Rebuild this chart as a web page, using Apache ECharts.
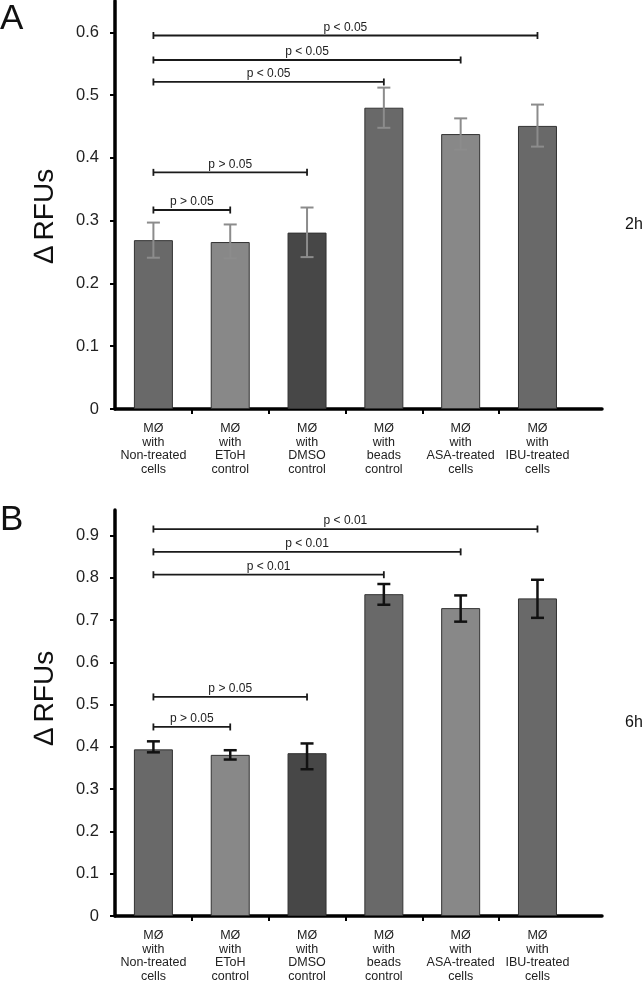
<!DOCTYPE html>
<html>
<head>
<meta charset="UTF-8">
<title>RFU 2h / 6h</title>
<script src="https://cdn.jsdelivr.net/npm/echarts@6/dist/echarts.min.js"></script>
<style>
    body { margin: 0; padding: 0; background: #fff; }
    #main { width: 643px; height: 983px; }
</style>
</head>
<body>
<div id="main"></div>
<script type="text/javascript">
    // categories (x axis)
    var categories = ['MØ\nwith\nNon-treated\ncells', 'MØ\nwith\nEToH\ncontrol', 'MØ\nwith\nDMSO\ncontrol',
        'MØ\nwith\nbeads\ncontrol', 'MØ\nwith\nASA-treated\ncells', 'MØ\nwith\nIBU-treated\ncells'];

    // panel A, 2h
    var mean2h = [0.269, 0.266, 0.281, 0.480, 0.438, 0.451];
    var errLow2h = [0.241, 0.240, 0.242, 0.448, 0.413, 0.418];
    var errHigh2h = [0.297, 0.294, 0.321, 0.512, 0.463, 0.485];
    var sigTo2h = [1, 2, 3, 4, 5];
    var sigY2h = [0.317, 0.377, 0.521, 0.556, 0.595];
    var sigText2h = ['p > 0.05', 'p > 0.05', 'p < 0.05', 'p < 0.05', 'p < 0.05'];
    var yTicks2h = [0, 0.1, 0.2, 0.3, 0.4, 0.5, 0.6];

    // panel B, 6h
    var mean6h = [0.394, 0.381, 0.385, 0.761, 0.728, 0.751];
    var errLow6h = [0.387, 0.370, 0.347, 0.736, 0.696, 0.705];
    var errHigh6h = [0.413, 0.392, 0.408, 0.785, 0.758, 0.795];
    var sigTo6h = [1, 2, 3, 4, 5];
    var sigY6h = [0.447, 0.518, 0.807, 0.861, 0.915];
    var sigText6h = ['p > 0.05', 'p > 0.05', 'p < 0.01', 'p < 0.01', 'p < 0.01'];
    var yTicks6h = [0, 0.1, 0.2, 0.3, 0.4, 0.5, 0.6, 0.7, 0.8, 0.9];

    var barColors = ['#696969', '#888888', '#474747', '#696969', '#888888', '#696969'];
    var FONT = '"Liberation Sans", Arial, sans-serif';

    var myChart = echarts.init(document.getElementById('main'));

    function xAxisOf(grid) {
        return {
            type: 'value', gridIndex: grid, min: 0, max: 6.34,
            splitLine: { show: false },
            axisLine: { show: true, onZero: false, lineStyle: { color: '#000', width: 3.5 } },
            axisTick: { show: true, customValues: [1, 2, 3, 4, 5], length: 5, lineStyle: { color: '#000', width: 2 } },
            axisLabel: {
                customValues: [0.5, 1.5, 2.5, 3.5, 4.5, 5.5],
                formatter: function (v) { return categories[Math.round(v - 0.5)]; },
                fontFamily: FONT, fontSize: 12.5, lineHeight: 13.5, color: '#222', margin: 13
            }
        };
    }
    function yAxisOf(grid, max, ticks) {
        return {
            type: 'value', gridIndex: grid, min: 0, max: max,
            splitLine: { show: false },
            axisLine: { show: true, lineStyle: { color: '#000', width: 3.5 } },
            axisTick: { show: true, customValues: ticks, length: 5, lineStyle: { color: '#000', width: 2 } },
            axisLabel: {
                customValues: ticks,
                formatter: function (v) { return v === 0 ? '0' : v.toFixed(1); },
                fontFamily: FONT, fontSize: 16.5, color: '#222', margin: 16
            }
        };
    }

    function barSeries(grid, means) {
        return {
            type: 'bar', xAxisIndex: grid, yAxisIndex: grid, barWidth: 39,
            data: means.map(function (v, i) {
                return { value: [i + 0.5, v], itemStyle: { color: barColors[i], borderColor: '#333', borderWidth: 1 } };
            })
        };
    }

    function errSeries(grid, lows, highs, color, width) {
        return {
            type: 'custom', xAxisIndex: grid, yAxisIndex: grid, z: 3,
            encode: { x: 0, y: [1, 2] },
            data: lows.map(function (lo, i) { return [i + 0.5, lo, highs[i]]; }),
            renderItem: function (params, api) {
                var lo = api.coord([api.value(0), api.value(1)]);
                var hi = api.coord([api.value(0), api.value(2)]);
                var st = { stroke: color, lineWidth: width };
                var w = 6.5;
                return {
                    type: 'group', children: [
                        { type: 'line', shape: { x1: lo[0], y1: lo[1], x2: hi[0], y2: hi[1] }, style: st },
                        { type: 'line', shape: { x1: hi[0] - w, y1: hi[1], x2: hi[0] + w, y2: hi[1] }, style: st },
                        { type: 'line', shape: { x1: lo[0] - w, y1: lo[1], x2: lo[0] + w, y2: lo[1] }, style: st }
                    ]
                };
            }
        };
    }

    function sigSeries(grid, toIdx, ys, texts) {
        return {
            type: 'custom', xAxisIndex: grid, yAxisIndex: grid, z: 4,
            encode: { x: [0, 1], y: 2 },
            data: toIdx.map(function (t, i) { return [0.5, t + 0.5, ys[i]]; }),
            renderItem: function (params, api) {
                var a = api.coord([api.value(0), api.value(2)]);
                var b = api.coord([api.value(1), api.value(2)]);
                var st = { stroke: '#1a1a1a', lineWidth: 1.8 };
                return {
                    type: 'group', children: [
                        { type: 'line', shape: { x1: a[0], y1: a[1], x2: b[0], y2: b[1] }, style: st },
                        { type: 'line', shape: { x1: a[0], y1: a[1] - 3.5, x2: a[0], y2: a[1] + 3.5 }, style: st },
                        { type: 'line', shape: { x1: b[0], y1: b[1] - 3.5, x2: b[0], y2: b[1] + 3.5 }, style: st },
                        {
                            type: 'text', x: (a[0] + b[0]) / 2, y: a[1] - 2,
                            style: {
                                text: texts[params.dataIndex], align: 'center', verticalAlign: 'bottom',
                                fontFamily: FONT, fontSize: 12, fill: '#222'
                            }
                        }
                    ]
                };
            }
        };
    }

    var option = {
        animation: false,
        backgroundColor: '#fff',
        grid: [
            { left: 115, top: 1, width: 487, height: 408 },
            { left: 115, top: 510, width: 487, height: 408 }
        ],
        xAxis: [xAxisOf(0), xAxisOf(1)],
        yAxis: [yAxisOf(0, 0.65, yTicks2h), yAxisOf(1, 0.96, yTicks6h)],
        series: [
            barSeries(0, mean2h),
            errSeries(0, errLow2h, errHigh2h, '#8c8c8c', 2),
            sigSeries(0, sigTo2h, sigY2h, sigText2h),
            barSeries(1, mean6h),
            errSeries(1, errLow6h, errHigh6h, '#111', 2.5),
            sigSeries(1, sigTo6h, sigY6h, sigText6h)
        ],
        graphic: [
            { type: 'text', left: 0, top: 2, style: { text: 'A', fontFamily: FONT, fontSize: 35, fill: '#111' } },
            { type: 'text', left: 0, top: 503, style: { text: 'B', fontFamily: FONT, fontSize: 35, fill: '#111' } },
            { type: 'text', x: 45, y: 216, rotation: Math.PI / 2, style: { text: '∆\u2009RFUs', align: 'center', verticalAlign: 'middle', fontFamily: FONT, fontSize: 28, fill: '#111' } },
            { type: 'text', x: 45, y: 698, rotation: Math.PI / 2, style: { text: '∆\u2009RFUs', align: 'center', verticalAlign: 'middle', fontFamily: FONT, fontSize: 28, fill: '#111' } },
            { type: 'text', x: 625, y: 225, style: { text: '2h', verticalAlign: 'middle', fontFamily: FONT, fontSize: 16, fill: '#111' } },
            { type: 'text', x: 625, y: 723, style: { text: '6h', verticalAlign: 'middle', fontFamily: FONT, fontSize: 16, fill: '#111' } }
        ]
    };
    myChart.setOption(option);
</script>
</body>
</html>
